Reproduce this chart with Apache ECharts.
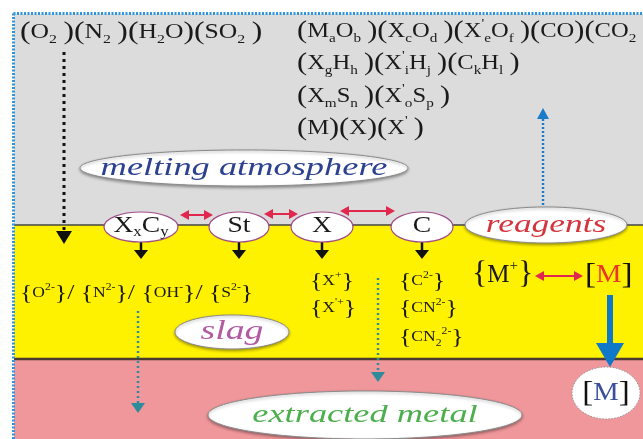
<!DOCTYPE html>
<html><head><meta charset="utf-8">
<script src="https://cdn.jsdelivr.net/npm/echarts@6/dist/echarts.min.js"></script>
<style>html,body{margin:0;padding:0;background:#fff}#c{width:643px;height:439px}</style>
</head><body><div id="c"></div>
<script>
// ---------------- data (diagram coordinates, 0..643 x 0..439) ----------------
const layerNames = ['atmosphere', 'slag', 'metal'];
const layerTop = [14, 225, 359];
const layerBottom = [225, 359, 439];

const gasFormulas = ['(O_2 )', '(N_2 )', '(H_2O)', '(SO_2 )'];
const productRows = [
  ['(M_aO_b )', '(X_cO_d )', "(X^'_eO_f )", '(CO)', '(CO_2 )'],
  ['(X_gH_h )', "(X^'_iH_j )", '(C_kH_l )'],
  ['(X_mS_n )', "(X^'_oS_p )"],
  ['(M)', '(X)', "(X^' )"]
];
const productRowY = [31, 63, 96, 128];

const slagIons = ['O^{2-}', 'N^{2-}', 'OH^-', 'S^{2-}'];
const xIons = ['X^+', "X^{'+}"];
const cIons = ['C^{2-}', 'CN^{2-}', 'CN_2^{2-}'];
const ionRowY = [281, 308, 337];

const nodeLabels = ['X_xC_y', 'St', 'X', 'C'];
const nodeX = [141, 239, 322, 422];
const nodeRx = [37, 30, 31, 31];
const nodeY = 227;

const phaseLabels = ['melting atmosphere', 'reagents', 'slag', 'extracted metal'];
const phaseCx = [244, 546, 232, 365];
const phaseCy = [168, 225, 332, 415];
const phaseRx = [164, 81, 57, 157];
const phaseRy = [18, 18, 17, 24];

// arrows: [x1, y1, x2, y2, kind]
const arrows = [
  [64, 52, 64, 244, 0],
  [543, 205, 543, 108, 1],
  [180, 215, 213, 215, 2],
  [264, 214, 298, 214, 2],
  [340, 211, 395, 211, 2],
  [535, 276, 583, 276, 2],
  [141, 242, 141, 259, 3],
  [239, 241, 239, 259, 3],
  [322, 242, 322, 259, 3],
  [422, 242, 422, 259, 3],
  [138, 311, 138, 413, 4],
  [378, 278, 378, 382, 4],
  [610, 295, 610, 367, 5]
];

// ---------------- styles ----------------
const FAM = '"Liberation Serif", "Times New Roman", serif';
const layerColors = ['#dcdcdc', '#fff200', '#ef979b'];
const arrowStyles = [
  {color: '#111', width: 3, dash: [3, 4], len: 13, half: 8, both: false},
  {color: '#1a7cc8', width: 2.5, dash: [2, 2], len: 11, half: 6, both: false},
  {color: '#e0284f', width: 2, dash: null, len: 9, half: 5, both: true},
  {color: '#111', width: 2.5, dash: null, len: 9, half: 7, both: false},
  {color: '#2c8c9c', width: 2.5, dash: [2, 3], len: 10, half: 7, both: false},
  {color: '#0f78c8', width: 6, dash: null, len: 24, half: 14, both: false}
];
const phaseColors = ['#2d4191', '#d6343c', '#b25aa3', '#4cae4c'];
const phaseFont = [26, 26, 28, 26];
const phaseScale = [1.4, 1.36, 1.35, 1.4];
const FORMULA_SCALE = 1.2;

function toRich(f, k) {
  let out = '', i = 0;
  while (i < f.length) {
    const ch = f[i];
    if (ch === '_' || ch === '^') {
      i++;
      let t;
      if (f[i] === '{') { const j = f.indexOf('}', i); t = f.slice(i + 1, j); i = j + 1; }
      else { t = f[i]; i++; }
      out += '{' + k + (ch === '_' ? 's' : 'p') + '|' + t + '}';
    } else if (ch === '(' || ch === ')') { out += '{' + k + 'q|' + ch + '}'; i++; }
    else {
      let j = i;
      while (j < f.length && '_^()'.indexOf(f[j]) < 0) j++;
      out += '{' + k + 'b|' + f.slice(i, j) + '}';
      i = j;
    }
  }
  return out;
}
function richSet(k, base, sub, par, lh, subLh, color) {
  const c = color || '#1a1a1a';
  const o = {};
  o[k + 'b'] = {fontSize: base, fontFamily: FAM, lineHeight: lh, fill: c};
  o[k + 'q'] = {fontSize: par, fontFamily: FAM, lineHeight: lh, fill: c};
  o[k + 's'] = {fontSize: sub, fontFamily: FAM, lineHeight: subLh, verticalAlign: 'bottom', fill: c};
  o[k + 'p'] = {fontSize: sub, fontFamily: FAM, lineHeight: sub, verticalAlign: 'top', fill: c};
  return o;
}
const RICH = Object.assign({},
  richSet('g', 21, 13, 26, 28, 18),
  richSet('i', 15, 10, 15, 20, 12),
  richSet('n', 23, 14, 23, 26, 16),
  richSet('m', 25, 15, 28, 30, 15),
  {
    mr: {fontSize: 26, fontFamily: FAM, lineHeight: 30, fill: '#e8362a'},
    mu: {fontSize: 26, fontFamily: FAM, lineHeight: 30, fill: '#3a4f9c'},
    mk: {fontSize: 30, fontFamily: FAM, lineHeight: 30, fill: '#111'}
  }
);

function textEl(x, y, text, font, align, sx) {
  return {type: 'text', x: x, y: y, scaleX: sx || 1,
    style: {x: 0, y: 0, text: text, rich: RICH, font: font || ('22px ' + FAM),
      fill: '#1a1a1a', align: align || 'left', verticalAlign: 'middle'}};
}

const chart = echarts.init(document.getElementById('c'), null, {renderer: 'canvas'});

const series = [];
// layers
series.push({
  type: 'custom', silent: true, z: 1,
  data: layerNames.map((n, i) => [layerTop[i], layerBottom[i]]),
  renderItem: function (params, api) {
    const i = params.dataIndex;
    const a = api.coord([14, api.value(0)]), b = api.coord([643, api.value(1)]);
    const ch = [{type: 'rect', shape: {x: a[0], y: a[1], width: b[0] - a[0], height: b[1] - a[1]}, style: {fill: layerColors[i]}}];
    if (i > 0) ch.push({type: 'line', shape: {x1: a[0], y1: a[1], x2: b[0], y2: a[1]}, style: {stroke: i === 1 ? '#444' : '#4a3b30', lineWidth: i === 1 ? 1.5 : 2.5}});
    return {type: 'group', children: ch};
  }
});
// dotted frame
series.push({
  type: 'custom', silent: true, z: 2,
  data: [[14, 14]],
  renderItem: function (params, api) {
    const p = api.coord([13.5, 13.5]), r = api.coord([643, 13.5]), d = api.coord([13.5, 439]);
    const st = {stroke: '#2f95dc', lineWidth: 3, lineDash: [2, 1.5]};
    return {type: 'group', children: [
      {type: 'line', shape: {x1: p[0], y1: p[1], x2: r[0], y2: r[1]}, style: st},
      {type: 'line', shape: {x1: p[0], y1: p[1], x2: d[0], y2: d[1]}, style: st}
    ]};
  }
});
// arrows
series.push({
  type: 'custom', silent: true, z: 3,
  data: arrows,
  renderItem: function (params, api) {
    const p1 = api.coord([api.value(0), api.value(1)]);
    const p2 = api.coord([api.value(2), api.value(3)]);
    const s = arrowStyles[api.value(4)];
    const dx = p2[0] - p1[0], dy = p2[1] - p1[1], L = Math.sqrt(dx * dx + dy * dy);
    const ux = dx / L, uy = dy / L, nx = -uy, ny = ux;
    function head(tip, dir) {
      const bx = tip[0] - dir * ux * s.len, by = tip[1] - dir * uy * s.len;
      return {type: 'polygon', shape: {points: [tip, [bx + nx * s.half, by + ny * s.half], [bx - nx * s.half, by - ny * s.half]]}, style: {fill: s.color}};
    }
    const a = s.both ? [p1[0] + ux * (s.len - 1), p1[1] + uy * (s.len - 1)] : p1;
    const b = [p2[0] - ux * (s.len - 1), p2[1] - uy * (s.len - 1)];
    const ch = [{type: 'line', shape: {x1: a[0], y1: a[1], x2: b[0], y2: b[1]}, style: {stroke: s.color, lineWidth: s.width, lineDash: s.dash}}];
    ch.push(head(p2, 1));
    if (s.both) ch.push(head(p1, -1));
    return {type: 'group', children: ch};
  }
});
// phase ellipses
series.push({
  type: 'custom', silent: true, z: 4,
  data: phaseLabels.map((n, i) => [phaseCx[i], phaseCy[i], phaseRx[i], phaseRy[i]]),
  renderItem: function (params, api) {
    const i = params.dataIndex;
    const c = api.coord([api.value(0), api.value(1)]);
    const sz = api.size([api.value(2), api.value(3)]);
    return {type: 'group', children: [
      {type: 'ellipse', shape: {cx: c[0], cy: c[1], rx: sz[0], ry: sz[1]},
        style: {fill: '#fff', stroke: '#8a8a8a', lineWidth: 1, shadowBlur: 3, shadowColor: 'rgba(0,0,0,0.35)', shadowOffsetY: 1.5}},
      {type: 'text', x: c[0], y: c[1], scaleX: phaseScale[i],
        style: {x: 0, y: 0, text: phaseLabels[i], font: 'italic ' + phaseFont[i] + 'px ' + FAM,
        fill: phaseColors[i], align: 'center', verticalAlign: 'middle'}}
    ]};
  }
});
// species nodes
series.push({
  type: 'custom', silent: true, z: 4,
  data: nodeLabels.map((n, i) => [nodeX[i], nodeY, nodeRx[i], 15]),
  renderItem: function (params, api) {
    const i = params.dataIndex;
    const c = api.coord([api.value(0), api.value(1)]);
    const sz = api.size([api.value(2), api.value(3)]);
    return {type: 'group', children: [
      {type: 'ellipse', shape: {cx: c[0], cy: c[1], rx: sz[0], ry: sz[1]},
        style: {fill: '#fff', stroke: '#a04a88', lineWidth: 1.2}},
      textEl(c[0], c[1] - 1, toRich(nodeLabels[i], 'n'), null, 'center', FORMULA_SCALE)
    ]};
  }
});
// metal droplet [M]
series.push({
  type: 'custom', silent: true, z: 4,
  data: [[606, 393, 34, 26]],
  renderItem: function (params, api) {
    const c = api.coord([api.value(0), api.value(1)]);
    const sz = api.size([api.value(2), api.value(3)]);
    return {type: 'group', children: [
      {type: 'ellipse', shape: {cx: c[0], cy: c[1], rx: sz[0], ry: sz[1]},
        style: {fill: '#fff', stroke: '#999', lineWidth: 1, lineDash: [1.5, 1.5]}},
      textEl(c[0], c[1], '{mk|[}{mu|M}{mk|]}', null, 'center', 1.1)
    ]};
  }
});
// formulas and ions
series.push({
  type: 'custom', silent: true, z: 5,
  data: [[0, 0]],
  renderItem: function (params, api) {
    const ch = [];
    const P = (x, y) => api.coord([x, y]);
    let p = P(20, 32);
    ch.push(textEl(p[0], p[1], gasFormulas.map(f => toRich(f, 'g')).join(''), null, 'left', 1.22));
    productRows.forEach((row, r) => {
      const q = P(297, productRowY[r]);
      ch.push(textEl(q[0], q[1], row.map(f => toRich(f, 'g')).join(''), null, 'left', 1.17));
    });
    const brace = (f, k) => '{' + toRich(f, k) + '}';
    p = P(20, 293);
    ch.push(textEl(p[0], p[1], slagIons.map(f => brace(f, 'i')).join('/ '), '22px ' + FAM, 'left', 1.17));
    xIons.forEach((f, r) => { const q = P(310, ionRowY[r]); ch.push(textEl(q[0], q[1], brace(f, 'i'), '22px ' + FAM, 'left', 1.17)); });
    cIons.forEach((f, r) => { const q = P(399, ionRowY[r]); ch.push(textEl(q[0], q[1], brace(f, 'i'), '22px ' + FAM, 'left', 1.17)); });
    p = P(472, 275);
    ch.push(textEl(p[0], p[1], brace('M^+', 'm'), '32px ' + FAM));
    p = P(585, 275);
    ch.push(textEl(p[0], p[1], '{mk|[}{mr|M}{mk|]}', null, 'left', 1.1));
    return {type: 'group', children: ch};
  }
});

chart.setOption({
  animation: false,
  grid: {left: 0, right: 0, top: 0, bottom: 0},
  xAxis: {type: 'value', min: 0, max: 643, show: false},
  yAxis: {type: 'value', min: 0, max: 439, inverse: true, show: false},
  series: series
});
</script>
</body></html>
